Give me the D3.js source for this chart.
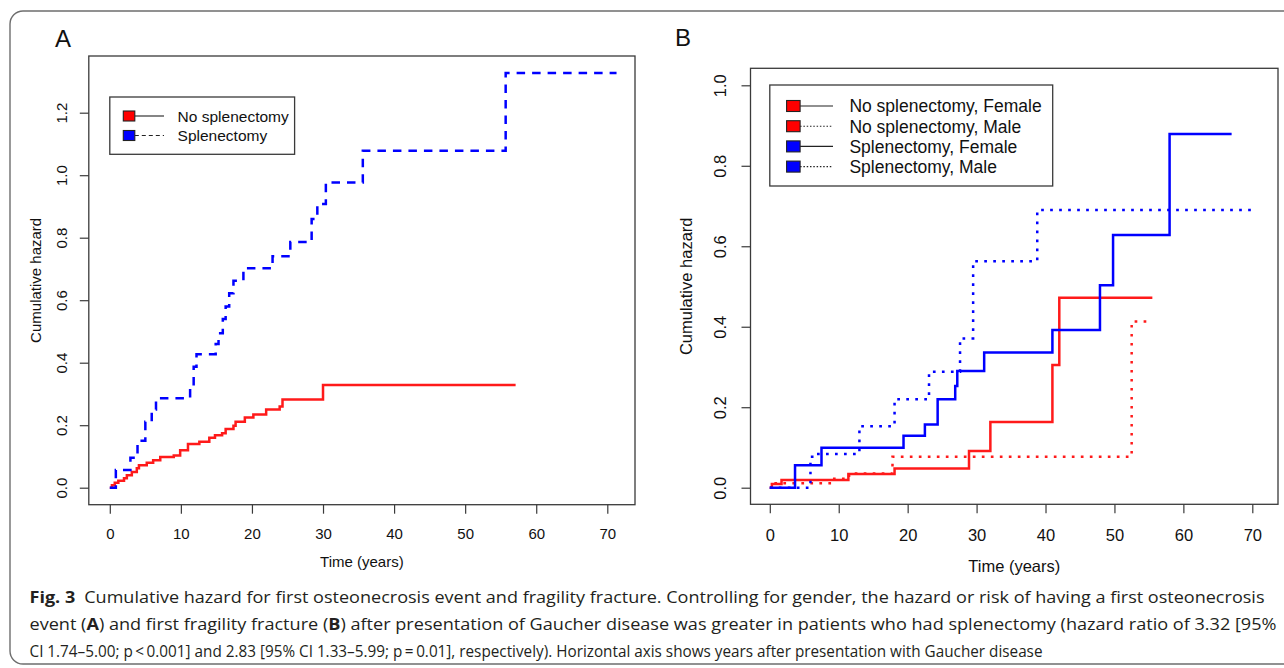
<!DOCTYPE html>
<html>
<head>
<meta charset="utf-8">
<script src="https://cdn.jsdelivr.net/npm/d3@7"></script>
<style>
  html, body { margin: 0; padding: 0; background: #fff; }
  svg { display: block; }
</style>
</head>
<body>
<svg id="chart" width="1284" height="668"></svg>
<script>
// ---------- DATA ----------
const xTicks = [0, 10, 20, 30, 40, 50, 60, 70];
const yTicksA = [0, 0.2, 0.4, 0.6, 0.8, 1.0, 1.2];
const yTicksB = [0, 0.2, 0.4, 0.6, 0.8, 1.0];

const legendA = ["No splenectomy", "Splenectomy"];
const legendB = ["No splenectomy, Female", "No splenectomy, Male", "Splenectomy, Female", "Splenectomy, Male"];

// Panel A: [time, cumulative hazard] step points (last point = end of curve)
const noSplenA = [
  [0, 0], [0.3, 0.008], [0.7, 0.016], [1.2, 0.022], [2.0, 0.03], [2.4, 0.04], [3.1, 0.05],
  [3.8, 0.062], [4.1, 0.072], [5.2, 0.08], [6.1, 0.088], [7.1, 0.098], [9.0, 0.103],
  [9.9, 0.12], [11.0, 0.14], [12.6, 0.147], [14.0, 0.16], [14.8, 0.168], [15.8, 0.174],
  [16.3, 0.188], [17.4, 0.198], [17.7, 0.211], [19.0, 0.225], [20.2, 0.234], [22.0, 0.25],
  [23.9, 0.26], [24.3, 0.282], [30.0, 0.329], [57.1, 0.329]
];
const splenA = [
  [0, 0], [0.85, 0.057], [2.9, 0.096], [3.9, 0.15], [5.0, 0.211], [5.9, 0.25], [6.5, 0.286],
  [11.3, 0.32], [11.8, 0.387], [12.2, 0.427], [14.9, 0.46], [15.3, 0.494], [15.9, 0.54],
  [16.3, 0.58], [16.8, 0.622], [17.4, 0.662], [18.8, 0.702], [22.9, 0.741], [25.4, 0.786],
  [28.4, 0.86], [29.2, 0.908], [30.4, 0.977], [35.6, 1.078], [55.7, 1.327], [71.3, 1.327]
];

// Panel B
const noSplenFemaleB = [
  [0, 0], [0.3, 0.009], [1.7, 0.019], [11.4, 0.034], [18.1, 0.048], [28.9, 0.091],
  [32.0, 0.163], [41.0, 0.305], [42.0, 0.472], [55.5, 0.472]
];
const noSplenMaleB = [
  [0, 0], [0.5, 0.011], [8.9, 0.022], [11.5, 0.035], [17.8, 0.077], [52.5, 0.413], [54.9, 0.413]
];
const splenFemaleB = [
  [0, 0], [3.66, 0.056], [7.5, 0.0995], [19.4, 0.129], [22.5, 0.157], [24.35, 0.22],
  [26.9, 0.253], [27.2, 0.29], [31.1, 0.336], [41.0, 0.392], [47.9, 0.503], [49.8, 0.628],
  [58.0, 0.879], [67.0, 0.879]
];
const splenMaleB = [
  [0, 0], [5.9, 0.077], [6.6, 0.084], [13.0, 0.153], [18.1, 0.22], [23.1, 0.288],
  [27.6, 0.371], [29.5, 0.563], [38.8, 0.69], [70.5, 0.69]
];

const captionLines = [
  [{t: "Fig. 3", b: true}, {t: "\u2002Cumulative hazard for first osteonecrosis event and fragility fracture. Controlling for gender, the hazard or risk of having a first osteonecrosis"}],
  [{t: "event ("}, {t: "A", b: true}, {t: ") and first fragility fracture ("}, {t: "B", b: true}, {t: ") after presentation of Gaucher disease was greater in patients who had splenectomy (hazard ratio of 3.32 [95%"}],
  [{t: "CI 1.74\u20135.00; p\u2009<\u20090.001] and 2.83 [95% CI 1.33\u20135.99; p\u2009=\u20090.01], respectively). Horizontal axis shows years after presentation with Gaucher disease"}]
];

// ---------- DRAW ----------
const svg = d3.select("#chart");
const FONT = "'Liberation Sans', Arial, Helvetica, sans-serif";
const RED = "#ff1a1a", BLUE = "#0000ff";

// outer frame
svg.append("rect").attr("x", 10).attr("y", 11).attr("width", 1300).attr("height", 653)
  .attr("rx", 13).attr("ry", 13).attr("fill", "none").attr("stroke", "#6e6e6e").attr("stroke-width", 1.4);

function panel(cfg) {
  const g = svg.append("g");
  const x = d3.scaleLinear().domain([0, 70]).range(cfg.xr);
  const y = d3.scaleLinear().domain(cfg.yd).range(cfg.yr);
  const b = cfg.box;

  // lines
  const line = d3.line().x(d => x(d[0])).y(d => y(d[1])).curve(d3.curveStepAfter);
  cfg.series.forEach(s => {
    g.append("path").datum(s.data).attr("d", line).attr("fill", "none")
      .attr("stroke", s.color).attr("stroke-width", s.w)
      .attr("stroke-dasharray", s.dash || null).attr("stroke-linecap", "butt");
  });

  // box
  g.append("rect").attr("x", b.x0).attr("y", b.y0).attr("width", b.x1 - b.x0).attr("height", b.y1 - b.y0)
    .attr("fill", "none").attr("stroke", "#3a3a3a").attr("stroke-width", 1.3);

  // x axis
  const xa = g.append("g").attr("transform", `translate(0,${b.y1})`)
    .call(d3.axisBottom(x).tickValues(xTicks).tickSize(9).tickPadding(cfg.xPad).tickFormat(d3.format("d")));
  xa.select(".domain").remove();
  xa.selectAll("line").attr("stroke", "#3a3a3a").attr("stroke-width", 1.2);
  xa.selectAll("text").attr("font-family", FONT).attr("font-size", cfg.tickFs).attr("fill", "#111");

  // y axis
  const ya = g.append("g").attr("transform", `translate(${b.x0},0)`)
    .call(d3.axisLeft(y).tickValues(cfg.yTicks).tickSize(9).tickFormat(d3.format(".1f")));
  ya.select(".domain").remove();
  ya.selectAll("line").attr("stroke", "#3a3a3a").attr("stroke-width", 1.2);
  ya.selectAll("text").attr("font-family", FONT).attr("font-size", cfg.tickFs).attr("fill", "#111")
    .attr("x", null).attr("dy", null).attr("text-anchor", "middle")
    .attr("transform", `translate(${cfg.yLabOff},0) rotate(-90)`);

  // axis titles
  g.append("text").attr("x", (b.x0 + b.x1) / 2).attr("y", cfg.xTitleY).attr("text-anchor", "middle")
    .attr("font-family", FONT).attr("font-size", cfg.titleFs).attr("fill", "#111").text("Time (years)");
  g.append("text").attr("transform", `translate(${cfg.yTitleX},${(b.y0 + b.y1) / 2}) rotate(-90)`)
    .attr("text-anchor", "middle").attr("font-family", FONT).attr("font-size", cfg.titleFs)
    .attr("fill", "#111").text("Cumulative hazard");

  // panel letter
  g.append("text").attr("x", cfg.letter[0]).attr("y", cfg.letter[1]).attr("font-family", FONT)
    .attr("font-size", 24).attr("fill", "#111").text(cfg.letter[2]);

  // legend
  const L = cfg.legend;
  g.append("rect").attr("x", L.x0).attr("y", L.y0).attr("width", L.x1 - L.x0).attr("height", L.y1 - L.y0)
    .attr("fill", "#fff").attr("stroke", "#3a3a3a").attr("stroke-width", 1.3);
  L.items.forEach((it, i) => {
    const cy = L.row0 + i * L.rowH;
    g.append("line").attr("x1", L.sqX + L.sqW).attr("x2", L.lineX2).attr("y1", cy).attr("y2", cy)
      .attr("stroke", "#222").attr("stroke-width", 1.1).attr("stroke-dasharray", it.dash || null);
    g.append("rect").attr("x", L.sqX).attr("y", cy - L.sqH / 2).attr("width", L.sqW).attr("height", L.sqH)
      .attr("fill", it.color).attr("stroke", "#222").attr("stroke-width", 1.1);
    g.append("text").attr("x", L.textX).attr("y", cy).attr("dy", "0.36em").attr("font-family", FONT)
      .attr("font-size", L.fs).attr("fill", "#111").text(it.label);
  });
}

panel({
  xr: [109.8, 607.3], yd: [0, 1.2], yr: [487.7, 112.7],
  box: {x0: 88.8, x1: 635, y0: 56, y1: 504.7},
  yTicks: yTicksA, tickFs: 15, titleFs: 15, xPad: 14.5, yLabOff: -21.5,
  xTitleY: 567, yTitleX: 40.5, letter: [55, 47, "A"],
  series: [
    {data: noSplenA, color: RED, w: 2.5},
    {data: splenA, color: BLUE, w: 2.5, dash: "8.5,7"}
  ],
  legend: {
    x0: 109.8, x1: 294.6, y0: 97, y1: 154.3, row0: 116, rowH: 19.5,
    sqX: 123.3, sqW: 11.5, sqH: 10, lineX2: 164, textX: 177.6, fs: 15.5,
    items: [
      {label: legendA[0], color: "#ff0000"},
      {label: legendA[1], color: "#0000ff", dash: "4,3"}
    ]
  }
});

panel({
  xr: [769.8, 1252.3], yd: [0, 1.0], yr: [487.7, 85.3],
  box: {x0: 750.5, x1: 1278, y0: 68.3, y1: 504.3},
  yTicks: yTicksB, tickFs: 16.5, titleFs: 16.5, xPad: 15.5, yLabOff: -24.3,
  xTitleY: 572, yTitleX: 692, letter: [675, 46, "B"],
  series: [
    {data: noSplenFemaleB, color: RED, w: 2.5},
    {data: noSplenMaleB, color: RED, w: 2.5, dash: "2.7,6.3"},
    {data: splenFemaleB, color: BLUE, w: 2.5},
    {data: splenMaleB, color: BLUE, w: 2.5, dash: "2.7,6.3"}
  ],
  legend: {
    x0: 769.8, x1: 1052.7, y0: 85, y1: 186, row0: 106, rowH: 20.2,
    sqX: 786.6, sqW: 13.5, sqH: 11, lineX2: 833, textX: 849.4, fs: 17.5,
    items: [
      {label: legendB[0], color: "#ff0000"},
      {label: legendB[1], color: "#ff0000", dash: "1.5,1.8"},
      {label: legendB[2], color: "#0000ff"},
      {label: legendB[3], color: "#0000ff", dash: "1.5,1.8"}
    ]
  }
});

// caption
const capY = [603, 630, 656.5];
const capW = [1235, 1247, 1013];
captionLines.forEach((parts, i) => {
  const t = svg.append("text").attr("x", 29.5).attr("y", capY[i])
    .attr("font-family", "'Open Sans', 'Noto Sans', sans-serif").attr("font-size", 16.5)
    .attr("fill", "#231f20").attr("textLength", capW[i]).attr("lengthAdjust", "spacingAndGlyphs");
  parts.forEach(p => {
    t.append("tspan").attr("font-weight", p.b ? 700 : 400).text(p.t);
  });
});
</script>
</body>
</html>
